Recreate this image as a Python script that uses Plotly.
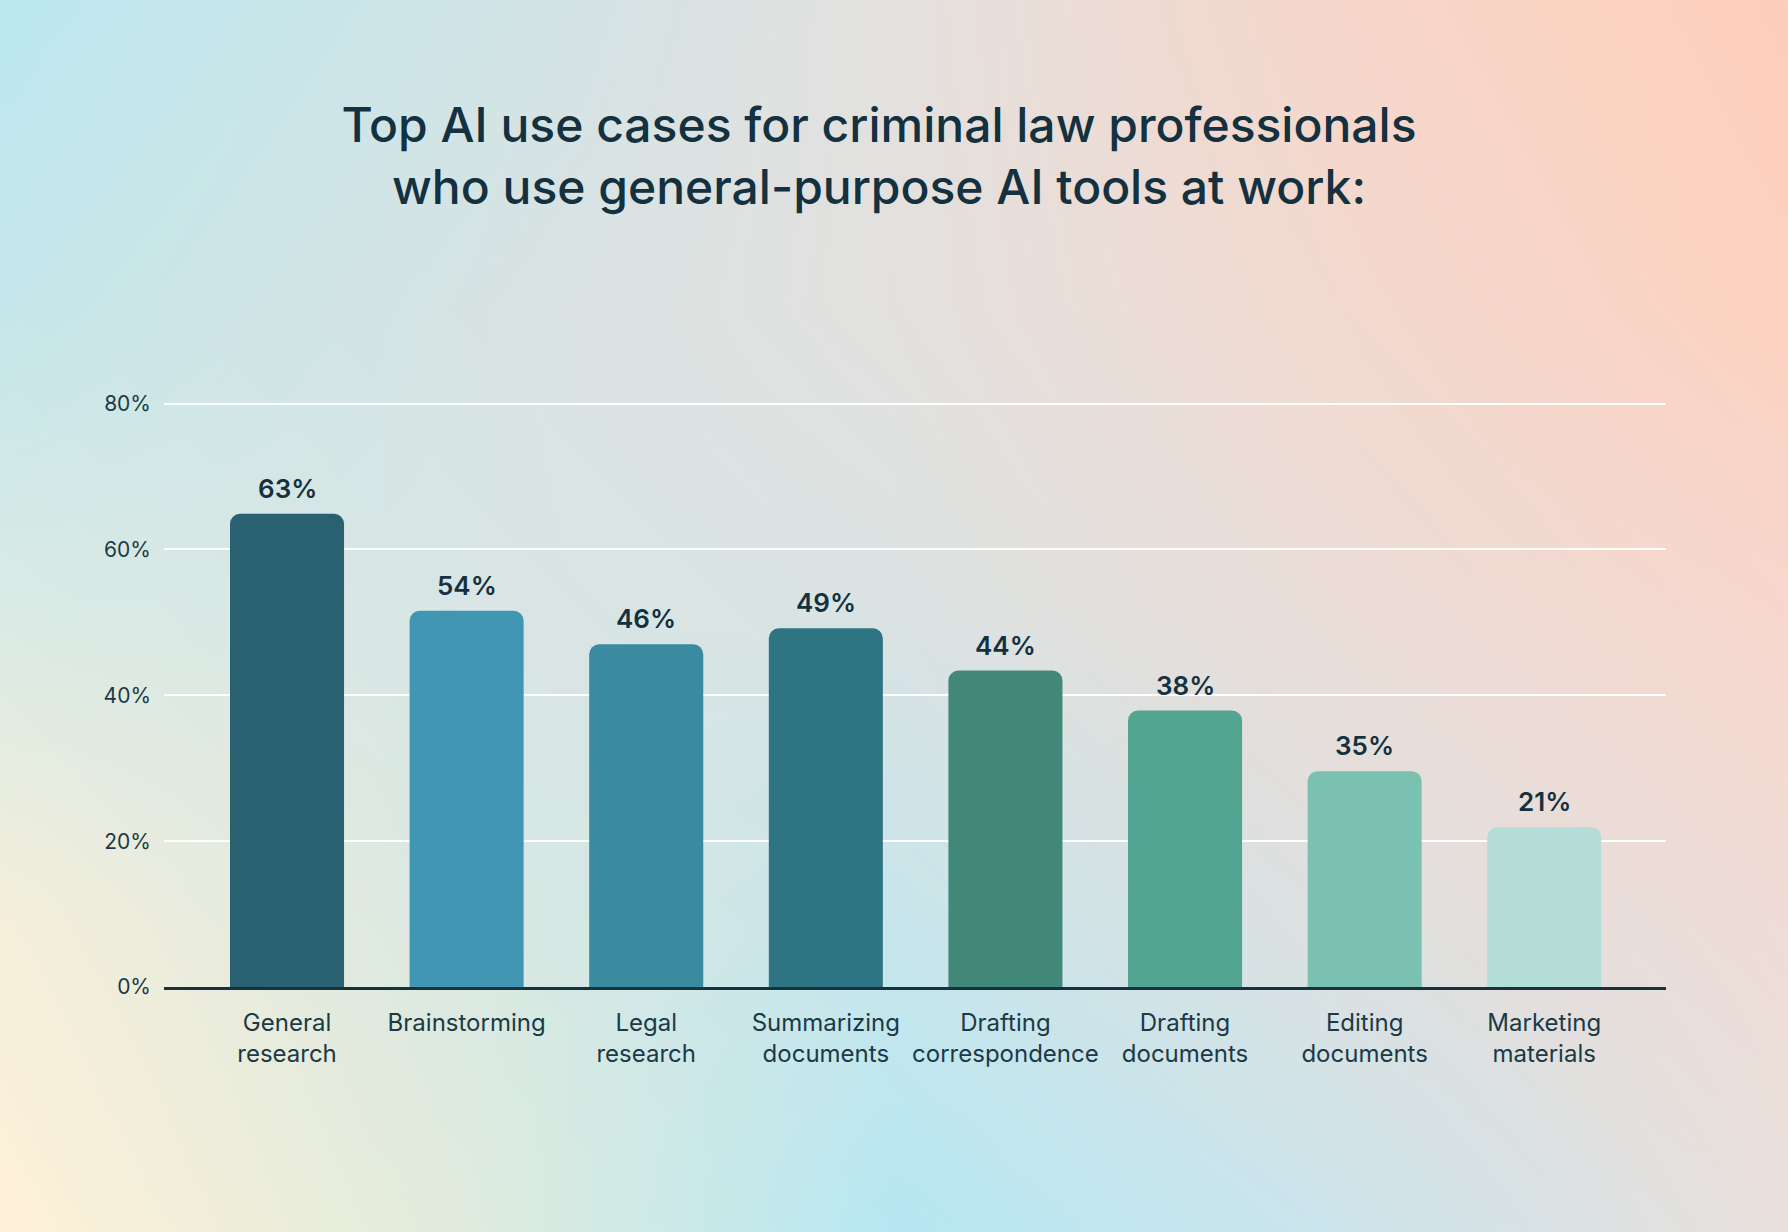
import base64
import struct
import zlib

import numpy as np
import plotly.graph_objects as go

# ---------------- data ----------------
categories = [
    "General<br>research",
    "Brainstorming",
    "Legal<br>research",
    "Summarizing<br>documents",
    "Drafting<br>correspondence",
    "Drafting<br>documents",
    "Editing<br>documents",
    "Marketing<br>materials",
]
bar_heights = [64.9, 51.6, 47.0, 49.2, 43.4, 37.9, 29.6, 21.9]
value_labels = ["63%", "54%", "46%", "49%", "44%", "38%", "35%", "21%"]
y_ticks = [0, 20, 40, 60, 80]
y_tick_labels = ["0%", "20%", "40%", "60%", "80%"]
title_text = ("Top AI use cases for criminal law professionals<br>"
              "who use general-purpose AI tools at work:")

# ---------------- styles ----------------
bar_colors = ["#296170", "#4196b3", "#3a8aa0", "#2f7483",
              "#418878", "#52a590", "#7bc1b1", "#b3ddd6"]
ink = "#13313e"
FONT = "Inter"
W, H = 1788, 1232
ML, MR, MT, MB = 164, 122, 389, 245


# ---------------- background gradient (style only) ----------------
def hex2rgb(h):
    h = h.lstrip("#")
    return [int(h[i:i + 2], 16) for i in (0, 2, 4)]


grid_hex = [
    ["#bce8ef", "#cfe5e8", "#e4e1df", "#f7d7cb", "#fecfbb"],
    ["#c6e7eb", "#d7e4e4", "#e3e1df", "#f3dad0", "#fdd2c1"],
    ["#dbebe5", "#d8e6e5", "#dbe3e3", "#ebddd8", "#f8d8ce"],
    ["#f5efdb", "#dbe9e2", "#c8e6ec", "#dfe1e1", "#efdcd6"],
    ["#fff1d8", "#e2ecdd", "#b7e8f3", "#cde5ec", "#e9e0dc"],
]
G = np.array([[hex2rgb(c) for c in row] for row in grid_hex], dtype=float)
ctrl = np.linspace(0, 1, 5)
IW, IH = 240, 166
u = np.linspace(0, 1, IW)
v = np.linspace(0, 1, IH)
rows = np.zeros((5, IW, 3))
for r in range(5):
    for ch in range(3):
        rows[r, :, ch] = np.interp(u, ctrl, G[r, :, ch])
img = np.zeros((IH, IW, 3))
for cidx in range(IW):
    for ch in range(3):
        img[:, cidx, ch] = np.interp(v, ctrl, rows[:, cidx, ch])
img = np.clip(img, 0, 255).astype(np.uint8)


def to_png(arr):
    h, w, _ = arr.shape
    raw = b"".join(b"\x00" + arr[y].tobytes() for y in range(h))

    def chunk(t, d):
        return (struct.pack(">I", len(d)) + t + d
                + struct.pack(">I", zlib.crc32(t + d) & 0xFFFFFFFF))

    return (b"\x89PNG\r\n\x1a\n"
            + chunk(b"IHDR", struct.pack(">IIBBBBB", w, h, 8, 2, 0, 0, 0))
            + chunk(b"IDAT", zlib.compress(raw, 9))
            + chunk(b"IEND", b""))


bg_uri = "data:image/png;base64," + base64.b64encode(to_png(img)).decode()
PW = W - ML - MR
PH = H - MT - MB

# ---------------- figure ----------------
fig = go.Figure()
fig.add_trace(go.Bar(
    x=categories,
    y=bar_heights,
    marker=dict(color=bar_colors, line=dict(width=0), cornerradius=10),
    width=0.635,
    hoverinfo="skip",
))

for cat, h, lab in zip(categories, bar_heights, value_labels):
    fig.add_annotation(
        x=cat, y=h, text=lab, showarrow=False,
        yanchor="bottom", xanchor="center", yshift=8,
        font=dict(family=FONT, size=26, color=ink, weight=600),
    )

fig.add_layout_image(
    source=bg_uri, xref="paper", yref="paper",
    x=-ML / PW, y=1 + MT / PH, sizex=W / PW, sizey=H / PH,
    xanchor="left", yanchor="top", sizing="stretch", layer="below",
)

fig.update_layout(
    width=W, height=H,
    margin=dict(l=ML, r=MR, t=MT, b=MB, pad=0),
    paper_bgcolor="#dfe4e3",
    plot_bgcolor="rgba(0,0,0,0)",
    showlegend=False,
    title=dict(
        text=title_text, x=879 / W, xanchor="center",
        y=1 - 142 / H, yanchor="top", yref="container",
        font=dict(family=FONT, size=48, color=ink, weight=500),
    ),
    font=dict(family=FONT, color=ink),
    xaxis=dict(
        range=[-0.685, 7.678],
        showgrid=False, zeroline=False,
        showline=True, linecolor="#17323f", linewidth=3,
        ticks="", ticklabelstandoff=12,
        tickfont=dict(family=FONT, size=24, color="#1b3a46"),
        fixedrange=True,
    ),
    yaxis=dict(
        range=[0, 82],
        tickvals=y_ticks, ticktext=y_tick_labels,
        showgrid=True, gridcolor="#ffffff", gridwidth=2,
        zeroline=False, showline=False,
        ticks="", ticklabelstandoff=12,
        tickfont=dict(family=FONT, size=21, color="#1b3a46"),
        fixedrange=True,
    ),
    hovermode=False,
)

fig.write_html(
    "out.html",
    config={"displayModeBar": False},
    post_script="document.body.style.margin='0';document.body.style.overflow='hidden';",
)
